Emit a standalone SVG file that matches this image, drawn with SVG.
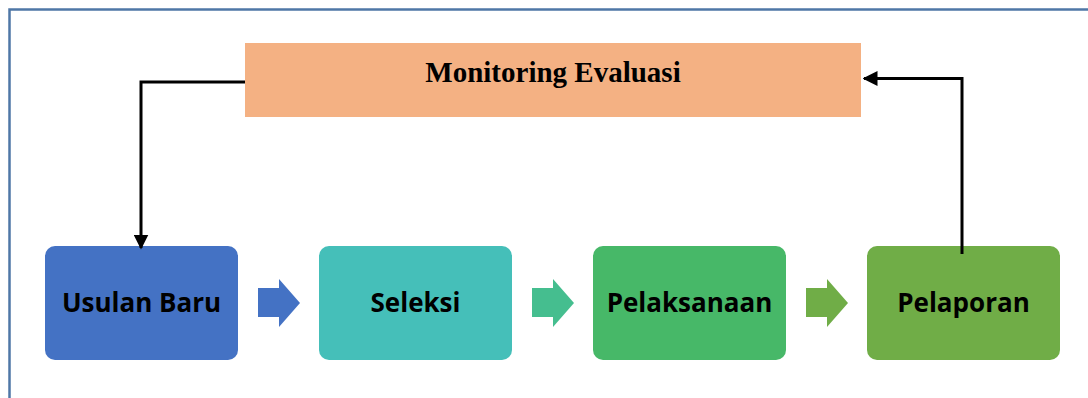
<svg xmlns="http://www.w3.org/2000/svg" width="1088" height="398" viewBox="0 0 1088 398">
<style>
.node text{font-family:"Open Sans","Noto Sans",sans-serif;font-weight:bold;font-size:26px;fill:#000;text-anchor:middle}
.title{font-family:"Liberation Serif",serif;font-weight:bold;font-size:29px;fill:#000;text-anchor:middle}
.conn{fill:none;stroke:#000;stroke-width:3}
</style>
<defs>
<marker id="ah" viewBox="0 0 10 10" refX="9" refY="5" markerWidth="5" markerHeight="5" orient="auto" markerUnits="strokeWidth">
<path d="M0,0 L10,5 L0,10 z" fill="#000"/>
</marker>
</defs>
<rect x="0" y="0" width="1088" height="398" fill="#fff"/>
<path d="M9.5,398 V9.5 H1088" fill="none" stroke="#4f77a6" stroke-width="2.5"/>
<g id="monitoring">
<rect x="245" y="43" width="616" height="74" fill="#f4b183"/>
<text class="title" x="553" y="82">Monitoring Evaluasi</text>
</g>
<g id="usulan-baru" class="node">
<rect x="45" y="246" width="193" height="114" rx="10" fill="#4472c4"/>
<text x="141.5" y="312">Usulan Baru</text>
</g>
<g id="seleksi" class="node">
<rect x="319" y="246" width="193" height="114" rx="10" fill="#45bfb9"/>
<text x="415.5" y="312">Seleksi</text>
</g>
<g id="pelaksanaan" class="node">
<rect x="593" y="246" width="193" height="114" rx="10" fill="#47b868"/>
<text x="689.5" y="312">Pelaksanaan</text>
</g>
<g id="pelaporan" class="node">
<rect x="867" y="246" width="193" height="114" rx="10" fill="#70ad47"/>
<text x="963.5" y="312">Pelaporan</text>
</g>
<g id="connectors">
<path d="M258,288 H279 V279 L300,303 L279,327 V317 H258 z" fill="#4472c4"/>
<path d="M532,288 H553 V279 L574,303 L553,327 V317 H532 z" fill="#45be8f"/>
<path d="M806,288 H827 V279 L848,303 L827,327 V317 H806 z" fill="#70ad47"/>
<path class="conn" d="M245,82 H141 V248" marker-end="url(#ah)"/>
<path class="conn" d="M962,254 V78.5 H864" marker-end="url(#ah)"/>
</g>
</svg>
